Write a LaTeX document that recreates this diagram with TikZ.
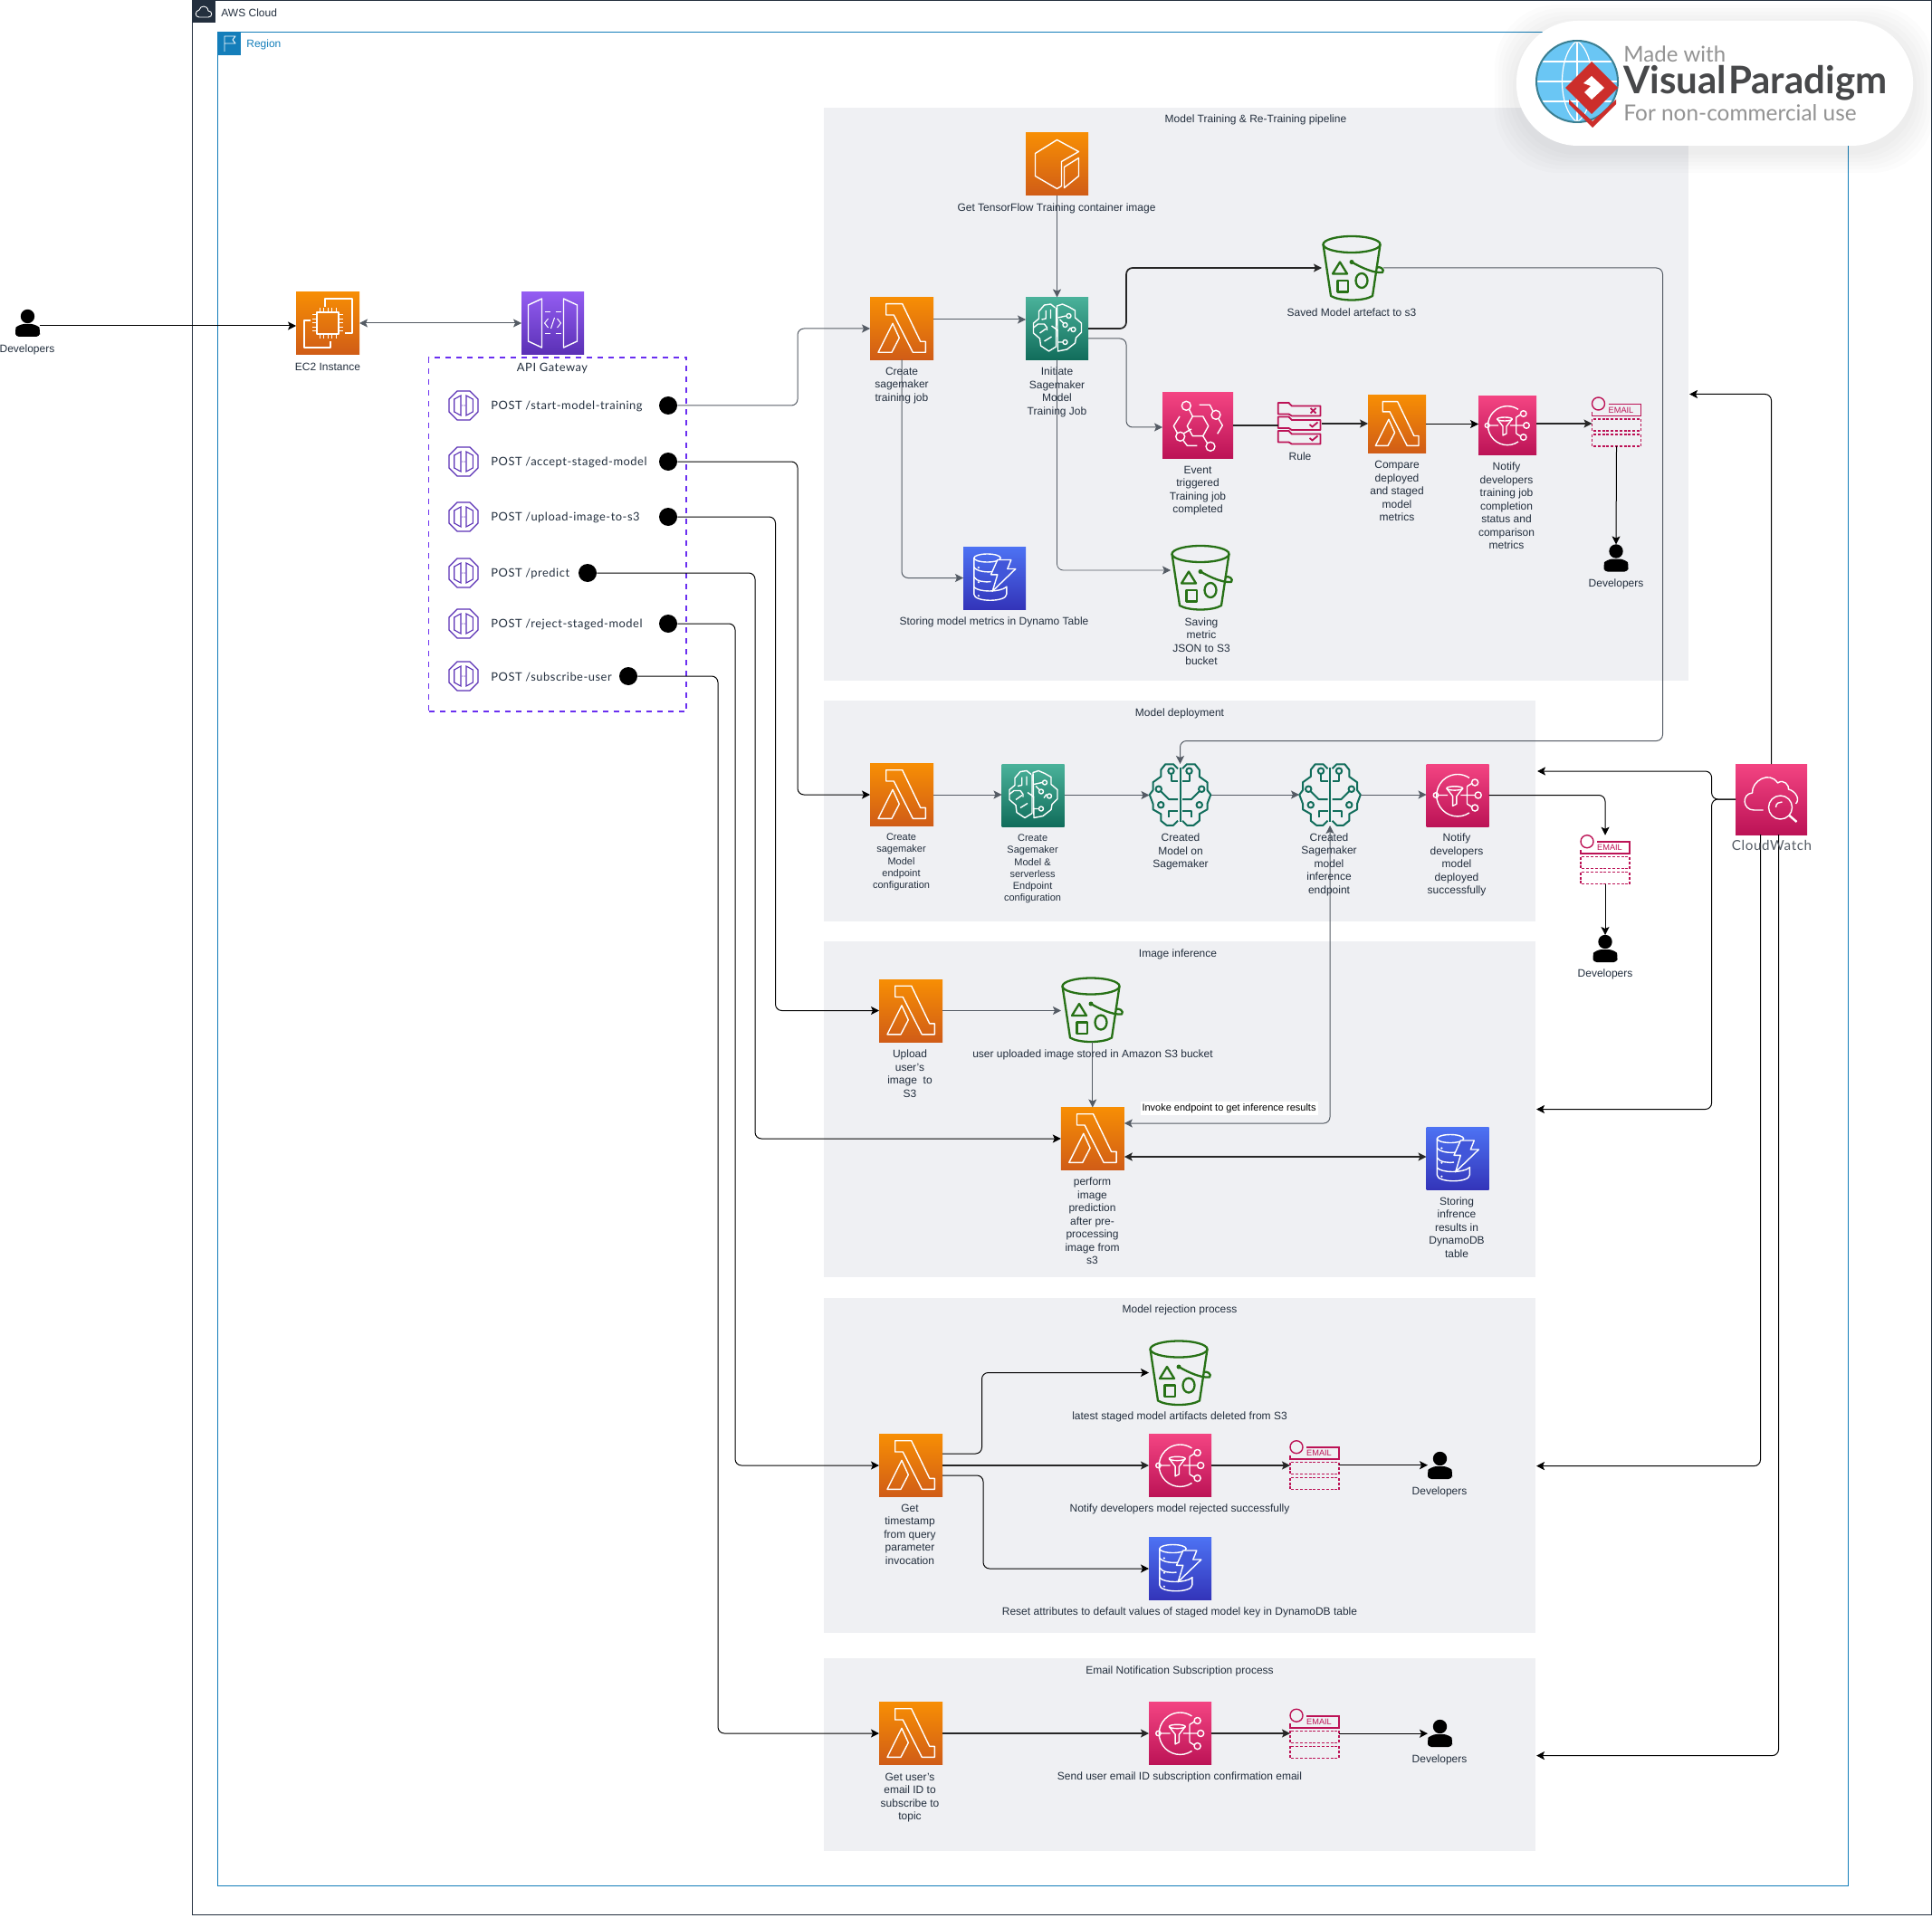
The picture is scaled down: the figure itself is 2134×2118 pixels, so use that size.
\documentclass[tikz,border=0pt]{standalone}
\usepackage{fontspec}
\setmainfont{Liberation Sans}
\newfontfamily\apifont[LetterSpace=4]{Lato}
\newfontfamily\logofont{Lato}
\usetikzlibrary{arrows.meta, positioning, shapes, calc}
\definecolor{awsink}{HTML}{232F3E}
\definecolor{regionblue}{HTML}{147EBA}
\definecolor{groupgray}{HTML}{EFF0F3}
\definecolor{linegray}{HTML}{545B64}
\definecolor{s3green}{HTML}{277116}
\definecolor{brainteal}{HTML}{116D5B}
\definecolor{tealtop}{HTML}{4AB29A}
\definecolor{snspink}{HTML}{BC1356}
\definecolor{pinktop}{HTML}{F34482}
\definecolor{orangetop}{HTML}{F78E04}
\definecolor{orangelow}{HTML}{D05C17}
\definecolor{bluetop}{HTML}{4D72F3}
\definecolor{bluelow}{HTML}{3334B9}
\definecolor{purpletop}{HTML}{945DF2}
\definecolor{apipurple}{HTML}{5A30B5}
\definecolor{dashpurple}{HTML}{6A2FF0}
\definecolor{logoblue}{HTML}{6AC6F4}
\definecolor{logoring}{HTML}{3B7F92}
\definecolor{logored}{HTML}{CC2E2B}
\definecolor{logodark}{HTML}{47484A}
\tikzset{
  >={Stealth[length=4.5pt,width=4.5pt,inset=1pt]},
  iconbox/.style 2 args={minimum width=#1*0.5pt, minimum height=#2*0.5pt, inner sep=0pt, outer sep=0pt},
  orangebox/.style={shade, top color=orangetop, bottom color=orangelow},
  tealbox/.style={shade, top color=tealtop, bottom color=brainteal},
  pinkbox/.style={shade, top color=pinktop, bottom color=snspink},
  bluebox/.style={shade, top color=bluetop, bottom color=bluelow},
  purplebox/.style={shade, top color=purpletop, bottom color=apipurple},
  groupbox/.style={fill=groupgray, inner sep=0pt},
  lbl/.style={align=center, inner sep=0pt, yshift=-0.6pt, text=awsink, font=\fontsize{6}{7.25}\selectfont},
  smalllbl/.style={lbl, font=\fontsize{5.5}{6.6}\selectfont},
  geolbl/.style={inner sep=0pt, yshift=-0.6pt, text=awsink, font=\apifont\fontsize{6.45}{7.5}\selectfont},
  grayline/.style={draw=linegray, line width=0.5pt, rounded corners=3.5pt},
  blackline/.style={draw=black, line width=0.5pt, rounded corners=3.5pt},
  heavyline/.style={draw=black!85, line width=0.85pt, rounded corners=3.5pt},
  glyph/.style={draw=white, line width=0.7pt, line join=round},
  dotend/.style={circle, fill=black, minimum size=10pt, inner sep=0pt},
  pics/lambdaglyph/.style={code={
    \draw[glyph] (-17.3,-27.3) -- (0.7,-27.3) -- (20.7,14.3) -- (26.3,14.3) -- (26.3,26.3) -- (12.3,26.3) -- (-8.7,-15) -- (-17.3,-15) -- cycle;
    \draw[glyph] (-10,-5.7) -- (-2.7,10.3) -- (-11,26.3) -- (-26,26.3) -- cycle;
  }},
  pics/chipglyph/.style={code={
    \draw[glyph] (-12,-12) rectangle (12,12);
    \foreach \p in {-9,-4.5,0,4.5,9} {
      \draw[glyph, line width=0.5pt] (\p,-12) -- (\p,-17) (\p,12) -- (\p,17) (-12,\p) -- (-17,\p) (12,\p) -- (17,\p);
    }
    \draw[glyph] (-3,-18) -- (-3,-27) -- (27,-27) -- (27,11) -- (19,11);
    \draw[glyph] (-19,-3) -- (-26,-3) -- (-26,27) -- (3,27) -- (3,20);
  }},
  pics/gatewayglyph/.style={code={
    \foreach \s in {1,-1} {
      \draw[glyph, xscale=\s] (12,-27) -- (27,-20) -- (27,20) -- (12,27) -- cycle;
      \draw[glyph, dashed, line width=0.5pt, xscale=\s] (-9,-12) -- (9,-12) (-9,12) -- (9,12);
      \draw[glyph, line width=0.5pt, xscale=\s] (5,-5) -- (9,0) -- (5,5);
    }
    \draw[glyph, line width=0.5pt] (-2,6) -- (2,-6);
  }},
  pics/containerglyph/.style={code={
    \draw[glyph] (5,-3) -- (24,-14) -- (0,-27) -- (-24,-12) -- (-24,13) -- (0,27) -- (5,24) -- cycle;
    \draw[glyph] (8,3) -- (24,-7) -- (24,13) -- (8,26) -- cycle;
  }},
  pics/brainglyph/.style={code={
    \begin{scope}[draw=white, line width=0.7pt, line join=round]
      \draw (0,-25) -- (6,-27) -- (13,-24) -- (20,-20) -- (20,-12) -- (27,-6) -- (27,4) -- (21,10) -- (20,16) -- (11,23) -- (1,25) -- cycle;
      \draw (-2,-23) -- (-7,-27) -- (-14,-26) -- (-20,-19) -- (-20,-11) -- (-26,-6) -- (-26,5) -- (-19,11) -- (-18,19) -- (-9,25) -- (-1,20);
      \draw (13,-14) circle[radius=2.5] (9,-4) circle[radius=2.5] (18,1) circle[radius=2.5] (9,15) circle[radius=2.5];
      \draw (1,-12) -- (10,-14) (3,-10) -- (7,-6) (1,15) -- (6.5,15) (15,-1) -- (12,3);
      \draw (-12.3,-20) -- (-12.3,-11) -- (-17,-10) (-7,-21) -- (-7,-11);
      \draw (-26,-1) -- (-21,-5) -- (-14,-5) -- (-11,-1) -- (-11,2);
      \draw (-19,5) -- (-12,0) (-6,-3) -- (1,2) (-14,14) -- (-6,9) (-1,20) -- (-1,-23);
    \end{scope}
  }},
  pics/circuitglyph/.style={code={
    \foreach \s in {1,-1} {
      \begin{scope}[xscale=\s, draw=brainteal, line width=1pt, line join=round]
        \draw (2,-23) -- (6,-27) -- (13,-27) -- (17,-22) -- (17,-16) -- (24,-11) -- (24,-4) -- (27,0) -- (24,8) -- (24,13) -- (17,17) -- (17,23) -- (12,27) -- (6,27) -- (2,23);
        \draw (2,-12) -- (8,-12) -- (8,-18);
        \draw (8,-21) circle[radius=2.6];
        \draw (2,4) -- (10,4) -- (17,-3);
        \draw (19,-5) circle[radius=2.6];
        \draw (2,14) -- (10,14) -- (10,20);
        \draw (17,9) circle[radius=2.6];
      \end{scope}
    }
    \draw[draw=brainteal, line width=1pt] (0,-24) -- (0,24);
  }},
  pics/bucketglyph/.style={code={
    \begin{scope}[draw=s3green, line width=1.15pt, line join=round]
      \draw (-1,-26) ellipse[x radius=31.5, y radius=9];
      \draw (-32.5,-26) -- (-24,31) .. controls (-14,37) and (12,37) .. (22,31) -- (30.5,-26);
      \draw (-14,-6.5) -- (-6,6.5) -- (-22,6.5) -- cycle;
      \draw (-16.5,14) rectangle (-5,26.5);
      \draw (10,14) ellipse[x radius=6.5, y radius=8];
      \fill[s3green] (-1,-6.5) circle[radius=2.5];
      \draw (-1,-6.5) .. controls (10,0) and (24,6) .. (33,5) .. controls (36,2) and (30,-3) .. (26,0);
    \end{scope}
  }},
  pics/snsglyph/.style={code={
    \draw[glyph] (12,18) arc[start angle=56, end angle=304, radius=21.5];
    \draw[glyph] (-22.3,0) circle[radius=2.5] (21,0) circle[radius=3.3] (17.7,-13) circle[radius=3.3] (17.7,13) circle[radius=3.3];
    \draw[glyph] (-20,0) -- (-10,0) (3,0) -- (17.7,0) (9.7,-9) -- (9.7,9) (9.7,-9) -- (14.5,-12) (9.7,9) -- (14.5,12);
    \draw[glyph] (-3,-7) ellipse[x radius=8.3, y radius=2];
    \draw[glyph] (-11.3,-7) -- (-5,1) -- (-5,11) -- (-1,9) -- (-1,1) -- (5.3,-7);
  }},
  pics/eventglyph/.style={code={
    \draw[glyph] (-11.7,0.7) -- (-5.7,-10) -- (5.7,-10) -- (11.7,0.7) -- (5.7,11.7) -- (-5.7,11.7) -- cycle;
    \draw[glyph] (-12.7,-21.7) circle[radius=5] (20,-11.7) circle[radius=5] (-19.3,12.3) circle[radius=5] (14,23.3) circle[radius=5];
    \draw[glyph] (-9.5,-17.5) -- (-5.7,-10) (-15,8.5) -- (-7,4) (10.5,19.5) -- (5.7,11.7);
    \draw[glyph] (1.7,-22.7) -- (13.3,-22.7) -- (16.7,-16) (22.7,-7.7) -- (27.3,0) -- (21.7,9.3);
    \draw[glyph] (-20,-10) -- (-26.7,0.7) -- (-22.7,8.3) (-16,16.7) -- (-11.7,22.3) -- (-0.7,22.3);
  }},
  pics/ruleglyph/.style={code={
    \foreach \r in {0,15.5,31} {
      \draw[draw=snspink, line width=0.9pt, line join=round, yshift=-\r*0.5pt] (-23.7,-23) -- (-12,-23) -- (-8.7,-19.5) -- (23,-19.5) -- (23,-8.5) -- (-8.7,-8.5) -- (-12,-10.5) -- (-23.7,-10.5) -- cycle;
    }
    \draw[draw=snspink, line width=0.9pt] (12,-17) -- (18,-11.5) (18,-17) -- (12,-11.5);
    \draw[draw=snspink, line width=0.9pt] (11,1) -- (14,3.5) -- (20,-1.5) (11,16) -- (14,18.5) -- (20,13.5);
  }},
  pics/emailglyph/.style={code={
    \draw[draw=snspink, line width=0.7pt] (-20,-20) circle[radius=7];
    \draw[draw=snspink, line width=0.8pt] (-9,-19.5) -- (27,-19.5) -- (27,-6.5) -- (-27,-6.5) -- (-27,-11);
    \node[inner sep=0pt, text=snspink, font=\fontsize{4.6}{5}\selectfont] (-word) at (5,-13) {EMAIL};
    \draw[draw=snspink, line width=0.7pt, dashed, dash pattern=on 1.5pt off 0.9pt] (-27,-3) rectangle (27,10) (-27,14) rectangle (27,27);
  }},
  pics/personglyph/.style={code={
    \fill[black] (0,-7.5) circle[radius=7.7];
    \fill[black, rounded corners=2pt] (-13.5,15) -- (-13.5,9) .. controls (-13,4) and (-7,1) .. (0,1) .. controls (7,1) and (13,4) .. (13.5,9) -- (13.5,15) -- cycle;
  }},
  pics/dynamoglyph/.style={code={
    \draw[glyph] (-8,-22) ellipse[x radius=14.7, y radius=4.5];
    \draw[glyph] (-22.7,-22) -- (-22.7,18) .. controls (-22.7,27) and (13.3,27) .. (13.3,18) -- (13.3,9);
    \draw[glyph] (-22.7,-12) .. controls (-20,-7) and (-8,-6) .. (-2,-7) (-22.7,-1) .. controls (-20,4) and (-10,5) .. (-4,4) (-22.7,10) .. controls (-18,16) and (6,16) .. (13,10);
    \fill[white] (-17.6,-11.5) circle[radius=1.2] (-17.6,4.7) circle[radius=1.2] (-17.6,19.7) circle[radius=1.2];
    \draw[glyph, fill=bluetop!55!bluelow] (3.3,-20) -- (18.3,-20) -- (14.3,-10) -- (23.3,-10) -- (-2.3,14.7) -- (3.3,-3.7) -- (-4,-3.7) -- cycle;
  }},
  pics/watchglyph/.style={code={
    \draw[glyph] (-9,12) -- (-19,12) .. controls (-32,12) and (-33,-6) .. (-21,-7) .. controls (-22,-20) and (-2,-32) .. (7,-18) .. controls (14,-23) and (20,-15) .. (19,-11) .. controls (27,-9) and (32,0) .. (27,5);
    \draw[glyph] (10,9) circle[radius=13];
    \draw[glyph, line width=1.2pt] (20,18) -- (28,25);
    \draw[glyph] (5,9) .. controls (5,4) and (9,3) .. (12,3);
  }},
  pics/endpointglyph/.style={code={
    \draw[draw=apipurple, line width=0.55pt] (-7,-16) -- (7,-16) -- (16,-7) -- (16,7) -- (7,16) -- (-7,16) -- (-16,7) -- (-16,-7) -- cycle;
    \foreach \s in {1,-1} {
      \draw[draw=apipurple, line width=0.55pt, xscale=\s] (3,-11) -- (10.3,-7) -- (10.3,7) -- (3,11) -- cycle;
    }
    \fill[apipurple] (-1.5,0) circle[radius=0.5] (0,0) circle[radius=0.5] (1.5,0) circle[radius=0.5];
  }},
}
\begin{document}
\begin{tikzpicture}[x=0.5pt, y=-0.5pt]
  \useasboundingbox (0,0) rectangle (2134,2118);

  % Containers
  \node[iconbox={1921}{2115}, draw=awsink, line width=0.5pt] (awsCloud) at (1172.5,1058) {};
  \node[iconbox={1801.5}{2047}, draw=regionblue, line width=0.5pt] (region) at (1141,1059.5) {};
  \node[iconbox={26}{25}, fill=awsink] (cloudTag) at (225,13) {};
  \draw[glyph, line width=0.45pt] (220,19) -- (230,19) .. controls (235,19) and (235,12) .. (230,12) .. controls (229,5) and (221,6) .. (220,11) .. controls (215,12) and (215,19) .. (220,19);
  \node[iconbox={25}{25}, fill=regionblue] (regionTag) at (253,48.5) {};
  \draw[glyph, line width=0.45pt] (248,57) -- (248,40) -- (260,40) -- (257,44) -- (260,48) -- (248,48);
  \node[lbl, anchor=west] (cloudText) at (244,13) {AWS Cloud};
  \node[lbl, anchor=west, text=regionblue] (regionText) at (272,48) {Region};

  \node[groupbox, iconbox={955}{633}] (grpTrain) at (1387.5,435.5) {};
  \node[groupbox, iconbox={785.5}{243.5}] (grpDeploy) at (1303,896) {};
  \node[groupbox, iconbox={785.5}{371}] (grpInfer) at (1303,1225.5) {};
  \node[groupbox, iconbox={785.5}{370.5}] (grpReject) at (1303,1619) {};
  \node[groupbox, iconbox={785.5}{213}] (grpMail) at (1303,1938.5) {};
  \node[lbl] (titleTrain) at (1387,131) {Model Training \& Re-Training pipeline};
  \node[lbl] (titleDeploy) at (1303,787) {Model deployment};
  \node[lbl] (titleInfer) at (1301,1053) {Image inference};
  \node[lbl] (titleReject) at (1303,1446.5) {Model rejection process};
  \node[lbl] (titleMail) at (1303,1845) {Email Notification Subscription process};

  % Lambda boxes
  \foreach \n/\x/\y in {lamCreate/996/363, lamEndpoint/996/878, lamUpload/1006/1116.5, lamPredict/1206.8/1258, lamReject/1006/1619, lamMail/1006/1915} {
    \node[iconbox={70}{69}, orangebox] (\n) at (\x,\y) {};
    \pic at (\n) {lambdaglyph};
  }
  \node[iconbox={64}{64}, orangebox] (lamCompare) at (1543,468.5) {};
  \pic[scale=0.91] at (lamCompare) {lambdaglyph};

  % SNS boxes
  \node[iconbox={64}{64}, pinkbox] (snsTrain) at (1665,470) {};
  \pic at (snsTrain) {snsglyph};
  \foreach \n/\x/\y in {snsDeploy/1610/878.5, snsReject/1303.5/1619, snsMail/1303.5/1915} {
    \node[iconbox={69}{69}, pinkbox] (\n) at (\x,\y) {};
    \pic[scale=1.08] at (\n) {snsglyph};
  }

  % Dynamo boxes
  \foreach \n/\x/\y in {dynTrain/1098.5/638.5, dynInfer/1610/1280, dynReject/1303.5/1733} {
    \node[iconbox={69}{69}, bluebox] (\n) at (\x,\y) {};
    \pic at (\n) {dynamoglyph};
  }

  % Buckets
  \foreach \n/\x/\y in {s3Model/1494/296, s3Metric/1327/638, s3Image/1206/1115.5, s3Reject/1303/1516.5} {
    \node[iconbox={68}{71}] (\n) at (\x,\y) {};
    \pic at (\n) {bucketglyph};
  }

  % Email topics
  \foreach \n/\x/\y in {mailTrain/1785.5/466, mailDeploy/1773/949.7, mailReject/1452/1618.7, mailSub/1452/1915.2} {
    \node[iconbox={54}{54}] (\n) at (\x,\y) {};
    \pic at (\n) {emailglyph};
  }

  % People
  \foreach \n/\x/\y in {devLeft/30.5/357, devTrain/1785/616.5, devDeploy/1773/1048, devReject/1590.5/1619, devMail/1590.5/1915} {
    \node[iconbox={27}{30}] (\n) at (\x,\y) {};
    \pic at (\n) {personglyph};
  }

  % Single icons
  \node[iconbox={70}{69}, orangebox] (ec2) at (362,357) {};
  \pic at (ec2) {chipglyph};
  \node[iconbox={69}{69}, purplebox] (apiGw) at (610.5,357) {};
  \pic at (apiGw) {gatewayglyph};
  \node[iconbox={69}{69}, orangebox] (ecrImage) at (1167.5,181.5) {};
  \pic at (ecrImage) {containerglyph};
  \node[iconbox={69}{69}, tealbox] (smTrain) at (1167.5,363) {};
  \pic at (smTrain) {brainglyph};
  \node[iconbox={69}{69}, tealbox] (smConfig) at (1141,878.5) {};
  \pic at (smConfig) {brainglyph};
  \node[iconbox={68}{68}] (smModel) at (1303.5,878) {};
  \pic[scale=1.25] at (smModel) {circuitglyph};
  \node[iconbox={68}{68}] (smInfer) at (1469,878) {};
  \pic[scale=1.25] at (smInfer) {circuitglyph};
  \node[iconbox={78}{72}, pinkbox] (evBridge) at (1323,470) {};
  \pic at (evBridge) {eventglyph};
  \node[iconbox={48}{46}] (ruleIcon) at (1435.5,468) {};
  \pic at (ruleIcon) {ruleglyph};
  \node[iconbox={79}{78}, pinkbox] (cloudWatch) at (1956.5,883) {};
  \pic at (cloudWatch) {watchglyph};

  % API routes
  \node[iconbox={284.5}{391}, draw=dashpurple, dashed, line width=0.8pt] (routeBox) at (615.8,590.5) {};
  \node[geolbl] (apiText) at (610,406) {API Gateway};
  \foreach \n/\y/\t/\d in {Start/448/{POST\ /start-model-training}/738, Accept/510/{POST\ /accept-staged-model}/738, Upload/571/{POST\ /upload-image-to-s3}/738, Predict/633/{POST\ /predict}/649, Reject/689/{POST\ /reject-staged-model}/738, Sub/747/{POST\ /subscribe-user}/694} {
    \node[iconbox={34}{34}] (ico\n) at (512,\y) {};
    \pic at (ico\n) {endpointglyph};
    \node[geolbl, anchor=west] (txt\n) at (542,\y) {\t};
    \node[dotend] (dot\n) at (\d,\y) {};
  }

  % Free ends at the panels
  \coordinate (cwTrain) at (1866,435.5);
  \coordinate (cwDeploy) at (1698,852);
  \coordinate (cwInfer) at (1697,1225.5);
  \coordinate (cwReject) at (1697,1619.6);
  \coordinate (cwMail) at (1697,1939.6);

  % Connectors, left
  \draw[blackline, ->] ([yshift=-1.5pt]devLeft.east) -- ([yshift=-1.5pt]ec2.west);
  \draw[grayline, <->] (ec2.east) -- (apiGw.west);
  \draw[grayline, ->] (dotStart.east) -- (881,448) -- (881,363) -- (lamCreate.west);
  \draw[blackline, ->] (dotAccept.east) -- (881,510) -- (881,878) -- (lamEndpoint.west);
  \draw[blackline, ->] (dotUpload.east) -- (856.5,571) -- (856.5,1116.5) -- (lamUpload.west);
  \draw[blackline, ->] (dotPredict.east) -- (834,633) -- (834,1258) -- (lamPredict.west);
  \draw[blackline, ->] (dotReject.east) -- (812,689) -- (812,1619) -- (lamReject.west);
  \draw[blackline, ->] (dotSub.east) -- (793,747) -- (793,1915) -- (lamMail.west);

  % Connectors, training
  \draw[grayline, ->] ([yshift=5pt]lamCreate.east) -- ([yshift=5pt]smTrain.west);
  \draw[grayline, ->, line width=0.4pt] (ecrImage.south) -- (smTrain.north);
  \draw[heavyline, ->] (smTrain.east) -- (1244,363) -- (1244,296) -- (s3Model.west);
  \draw[grayline, ->] ([yshift=-5.5pt]smTrain.east) -- (1244,374) -- (1244,472) -- ([yshift=-1pt]evBridge.west);
  \draw[grayline, ->] (lamCreate.south) -- (996,638.5) -- (dynTrain.west);
  \draw[grayline, ->, line width=0.4pt] (smTrain.south) -- (1167.5,630) -- ([yshift=4pt]s3Metric.west);
  \draw[heavyline] (evBridge.east) -- (evBridge.east -| ruleIcon.west);
  \draw[heavyline, ->] (ruleIcon.east) -- (ruleIcon.east -| lamCompare.west);
  \draw[blackline, ->] (lamCompare.east) -- (lamCompare.east -| snsTrain.west);
  \draw[heavyline, ->] ([yshift=1pt]snsTrain.east) -- ([yshift=1pt]snsTrain.east -| mailTrain.west);
  \draw[blackline, ->] (mailTrain.south) -- (devTrain.north);

  % Connectors, deployment
  \draw[grayline, ->] ([xshift=17pt]s3Model.center) -- (1836.5,296) -- (1836.5,818.5) -- (1303.5,818.5) -- (smModel.north);
  \draw[grayline, ->] (lamEndpoint.east) -- (lamEndpoint.east -| smConfig.west);
  \draw[grayline, ->] (smConfig.east) -- (smConfig.east -| smModel.west);
  \draw[grayline, ->] (smModel.east) -- (smInfer.west);
  \draw[grayline, ->] (smInfer.east) -- (smInfer.east -| snsDeploy.west);
  \draw[blackline, ->] (snsDeploy.east) -- (1773,878.5) -- (mailDeploy.north);
  \draw[blackline, ->] (mailDeploy.south) -- (devDeploy.north);

  % Connectors, inference
  \draw[heavyline, draw=linegray, ->] (lamUpload.east) -- (lamUpload.east -| s3Image.west);
  \draw[grayline, ->] (lamPredict.north |- s3Image.south) -- (lamPredict.north);
  \draw[grayline, <->] ([yshift=8.5pt]lamPredict.east) -- (1469,1241) -- (smInfer.south);
  \node[inner sep=1pt, fill=white, text=black, font=\fontsize{5.5}{6}\selectfont] (invokeText) at (1357.5,1224.5) {Invoke endpoint to get inference results};
  \draw[heavyline, <->] ([yshift=-10pt]lamPredict.east) -- ([yshift=-10pt]lamPredict.east -| dynInfer.west);

  % Connectors, rejection
  \draw[blackline, ->] ([yshift=6.5pt]lamReject.east) -- (1084.5,1606) -- (1084.5,1516.5) -- (s3Reject.west);
  \draw[heavyline, ->] (lamReject.east) -- (snsReject.west);
  \draw[blackline, ->] ([yshift=-5.5pt]lamReject.east) -- (1086,1630) -- (1086,1733) -- (dynReject.west);
  \draw[heavyline, ->] (snsReject.east) -- (snsReject.east -| mailReject.west);
  \draw[blackline, ->] (mailReject.east) -- (mailReject.east -| devReject.west);

  % Connectors, subscription
  \draw[heavyline, ->] (lamMail.east) -- (snsMail.west);
  \draw[heavyline, ->] (snsMail.east) -- (snsMail.east -| mailSub.west);
  \draw[blackline, ->] (mailSub.east) -- (mailSub.east -| devMail.west);

  % Connectors, CloudWatch
  \draw[blackline, ->] (cloudWatch.north) -- (1956.5,435.5) -- (cwTrain);
  \draw[blackline, ->] (cloudWatch.west) -- (1890.6,883) -- (1890.6,852) -- (cwDeploy);
  \draw[blackline, ->] (cloudWatch.west) -- (1890.6,883) -- (1890.6,1225.5) -- (cwInfer);
  \draw[blackline, ->] ([xshift=-6pt]cloudWatch.south) -- (1944.5,1619.6) -- (cwReject);
  \draw[blackline, ->] ([xshift=4pt]cloudWatch.south) -- (1964.5,1939.6) -- (cwMail);

  % Labels
  \node[lbl] (lblDevLeft) at (30,385.5) {Developers};
  \node[lbl] (lblEc2) at (362,404) {EC2 Instance};
  \node[lbl] (lblEcr) at (1167,229.5) {Get TensorFlow Training container image};
  \node[lbl, anchor=north] (lblCreate) at (996,404.5) {Create\\sagemaker\\training job};
  \node[lbl, anchor=north] (lblInitiate) at (1167.5,404.5) {Initiate\\Sagemaker\\Model\\Training Job};
  \node[lbl] (lblSaved) at (1493,344) {Saved Model artefact to s3};
  \node[lbl, anchor=north] (lblEvent) at (1323,513.5) {Event\\triggered\\Training job\\completed};
  \node[lbl] (lblRule) at (1436,503.5) {Rule};
  \node[lbl, anchor=north] (lblCompare) at (1543,508) {Compare\\deployed\\and staged\\model\\metrics};
  \node[lbl, anchor=north] (lblNotifyTrain) at (1664,509.5) {Notify\\developers\\training job\\completion\\status and\\comparison\\metrics};
  \node[lbl] (lblDevTrain) at (1785,644.5) {Developers};
  \node[lbl] (lblDynTrain) at (1098,686.5) {Storing model metrics in Dynamo Table};
  \node[lbl, anchor=north] (lblMetric) at (1327,681) {Saving\\metric\\JSON to S3\\bucket};
  \node[smalllbl, anchor=north] (lblEndpoint) at (995.5,919.5) {Create\\sagemaker\\Model\\endpoint\\configuration};
  \node[smalllbl, anchor=north] (lblConfig) at (1140.6,920.5) {Create\\Sagemaker\\Model \&\\serverless\\Endpoint\\configuration};
  \node[lbl, anchor=north] (lblModel) at (1304,919.5) {Created\\Model on\\Sagemaker};
  \node[lbl, anchor=north] (lblInfer) at (1468,919) {Created\\Sagemaker\\model\\inference\\endpoint};
  \node[lbl, anchor=north] (lblNotifyDeploy) at (1609,919.5) {Notify\\developers\\model\\deployed\\successfully};
  \node[lbl] (lblDevDeploy) at (1773,1075.5) {Developers};
  \node[geolbl, text=linegray, font=\apifont\fontsize{7.6}{9}\selectfont] (lblWatch) at (1957,933) {CloudWatch};
  \node[lbl, anchor=north] (lblUpload) at (1005,1158.5) {Upload\\user's\\image\ \ to\\S3};
  \node[lbl] (lblImage) at (1207,1164) {user uploaded image stored in Amazon S3 bucket};
  \node[lbl, anchor=north] (lblPredict) at (1206.5,1299.5) {perform\\image\\prediction\\after pre-\\processing\\image from\\s3};
  \node[lbl, anchor=north] (lblDynInfer) at (1609,1321) {Storing\\infrence\\results in\\DynamoDB\\table};
  \node[lbl] (lblS3Reject) at (1303,1564.5) {latest staged model artifacts deleted from S3};
  \node[lbl, anchor=north] (lblReject) at (1005,1660.5) {Get\\timestamp\\from query\\parameter\\invocation};
  \node[lbl] (lblNotifyReject) at (1303,1666) {Notify developers model rejected successfully};
  \node[lbl] (lblDevReject) at (1590,1647.5) {Developers};
  \node[lbl] (lblDynReject) at (1303,1780.5) {Reset attributes to default values of staged model key in DynamoDB table};
  \node[lbl, anchor=north] (lblMail) at (1005,1957) {Get user's\\email ID to\\subscribe to\\topic};
  \node[lbl] (lblNotifyMail) at (1303,1962.5) {Send user email ID subscription confirmation email};
  \node[lbl] (lblDevMail) at (1590,1943.5) {Developers};

  % Watermark
  \foreach \g in {24,20,16,12,8,4} {
    \fill[black, opacity=0.012, rounded corners=35pt] (1675-\g,23-\g+6) rectangle (2113+\g,161+\g+6);
  }
  \node[iconbox={438}{138}, fill=white, rounded corners=34pt] (logoPill) at (1894,92) {};
  \fill[logoblue] (1742,90) circle[radius=45];
  \draw[white, line width=0.6pt] (1697,90) -- (1787,90) (1702,68) -- (1782,68) (1702,112) -- (1782,112) (1742,45) -- (1742,135);
  \draw[white, line width=0.6pt] (1742,45) .. controls (1720,60) and (1720,120) .. (1742,135) (1742,45) .. controls (1764,60) and (1764,120) .. (1742,135);
  \draw[logoring, line width=1pt] (1742,90) circle[radius=45];
  \fill[logored] (1758,68) -- (1787,97) -- (1758,126) -- (1729,97) -- cycle;
  \fill[white] (1758,84) -- (1772,97) -- (1758,110) -- (1750,102) -- (1757,95) -- (1749,92) -- cycle;
  \fill[logored] (1733,110) -- (1759,134) -- (1785,110) -- (1785,115) -- (1759,141) -- (1733,115) -- cycle;
  \node[inner sep=0pt, anchor=west, text=gray!85, font=\logofont\fontsize{12}{14}\selectfont] (logoMade) at (1793,60) {Made with};
  \node[inner sep=0pt, anchor=west, text=logodark, font=\logofont\bfseries\fontsize{21}{24}\selectfont] (logoName) at (1793,92) {Visual\kern1pt Paradigm};
  \node[inner sep=0pt, anchor=west, text=gray!85, font=\logofont\fontsize{12.2}{14}\selectfont] (logoUse) at (1793,125) {For non-commercial use};
\end{tikzpicture}
\end{document}
